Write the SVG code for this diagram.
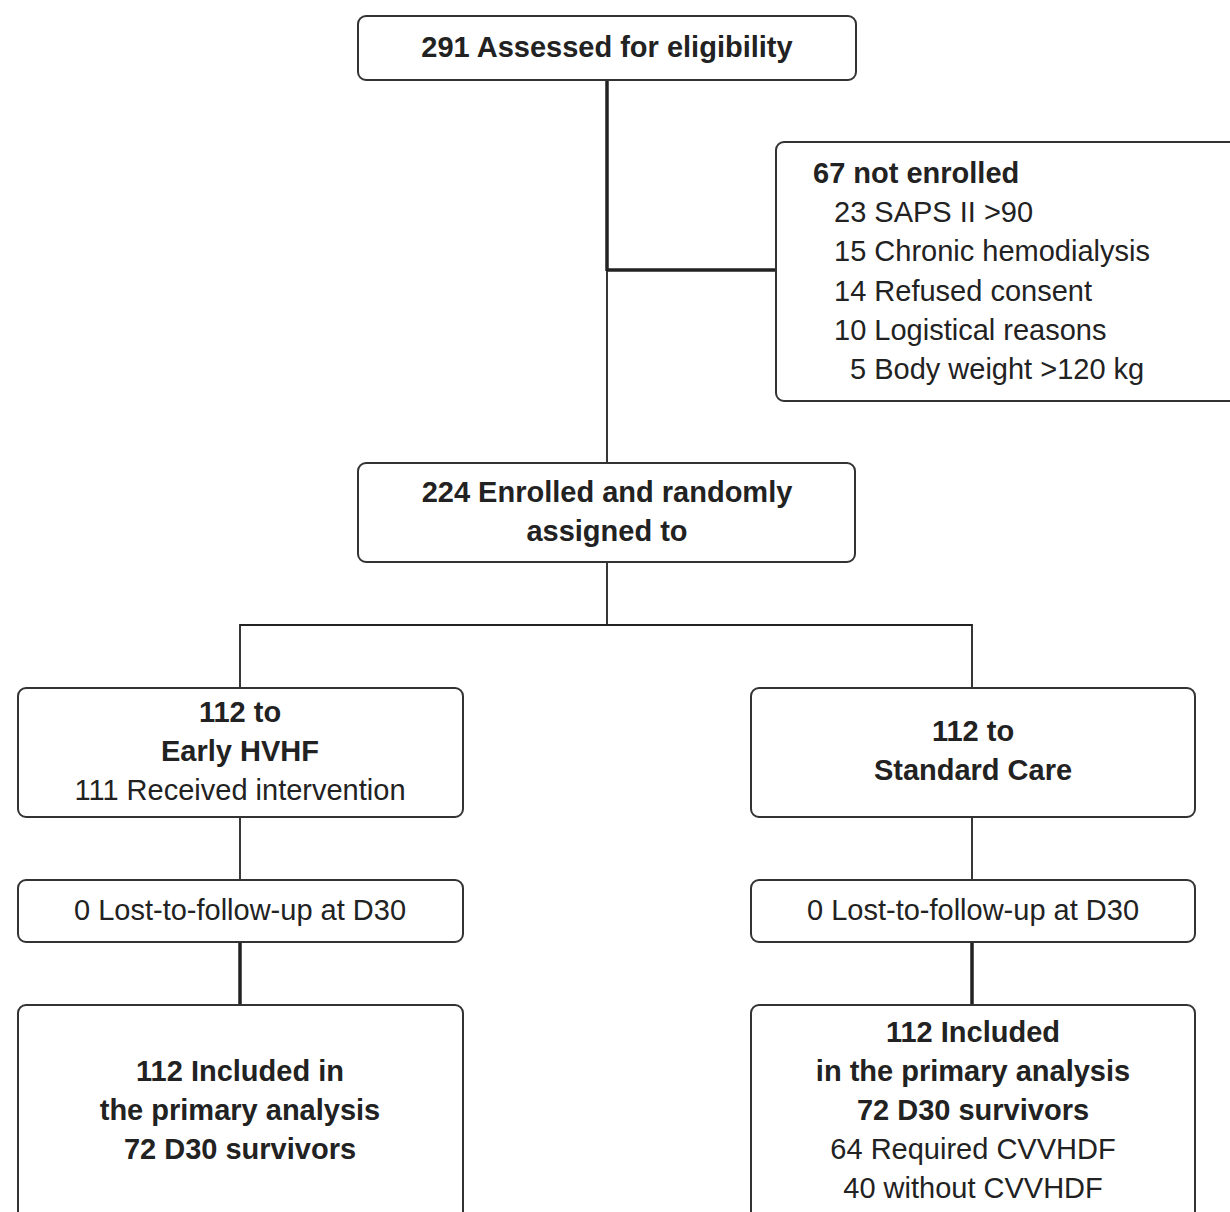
<svg xmlns="http://www.w3.org/2000/svg" width="1230" height="1212" viewBox="0 0 1230 1212">
<style>
.box{fill:#fff;stroke:#333;stroke-width:2}
text{font-family:"Liberation Sans",Arial,Helvetica,sans-serif;font-size:29px;fill:#222}
.b{font-weight:bold}
.c{text-anchor:middle}
.thick{stroke:#222;stroke-width:3.5;fill:none}
.thin{stroke:#222;stroke-width:1.8;fill:none}
</style>
<rect width="1230" height="1212" fill="#fff"/>
<g id="connectors">
<line class="thick" x1="607" y1="80" x2="607" y2="271"/>
<line class="thick" x1="607" y1="270" x2="777" y2="270"/>
<line class="thin" x1="607" y1="270" x2="607" y2="463"/>
<line class="thin" x1="607" y1="562" x2="607" y2="625"/>
<polyline class="thin" points="240,688 240,625 972,625 972,688"/>
<line class="thin" x1="240" y1="817" x2="240" y2="880"/>
<line class="thin" x1="972" y1="817" x2="972" y2="880"/>
<line class="thick" x1="240" y1="942" x2="240" y2="1005"/>
<line class="thick" x1="972" y1="942" x2="972" y2="1005"/>
</g>
<g id="assessed">
<rect class="box" x="358" y="16" width="498" height="64" rx="8"/>
<text class="b c" x="607" y="57">291 Assessed for eligibility</text>
</g>
<g id="not-enrolled">
<rect class="box" x="776" y="142" width="480" height="259" rx="8"/>
<text class="b" x="813" y="183">67 not enrolled</text>
<text x="834" y="222">23 SAPS II &gt;90</text>
<text x="834" y="261">15 Chronic hemodialysis</text>
<text x="834" y="301">14 Refused consent</text>
<text x="834" y="340">10 Logistical reasons</text>
<text x="850" y="379">5 Body weight &gt;120 kg</text>
</g>
<g id="enrolled">
<rect class="box" x="358" y="463" width="497" height="99" rx="8"/>
<text class="b c" x="607" y="502">224 Enrolled and randomly</text>
<text class="b c" x="607" y="541">assigned to</text>
</g>
<g id="early-hvhf">
<rect class="box" x="18" y="688" width="445" height="129" rx="8"/>
<text class="b c" x="240" y="722">112 to</text>
<text class="b c" x="240" y="761">Early HVHF</text>
<text class="c" x="240" y="800">111 Received intervention</text>
</g>
<g id="standard-care">
<rect class="box" x="751" y="688" width="444" height="129" rx="8"/>
<text class="b c" x="973" y="741">112 to</text>
<text class="b c" x="973" y="780">Standard Care</text>
</g>
<g id="lost-left">
<rect class="box" x="18" y="880" width="445" height="62" rx="8"/>
<text class="c" x="240" y="920">0 Lost-to-follow-up at D30</text>
</g>
<g id="lost-right">
<rect class="box" x="751" y="880" width="444" height="62" rx="8"/>
<text class="c" x="973" y="920">0 Lost-to-follow-up at D30</text>
</g>
<g id="analysis-left">
<rect class="box" x="18" y="1005" width="445" height="230" rx="8"/>
<text class="b c" x="240" y="1081">112 Included in</text>
<text class="b c" x="240" y="1120">the primary analysis</text>
<text class="b c" x="240" y="1159">72 D30 survivors</text>
</g>
<g id="analysis-right">
<rect class="box" x="751" y="1005" width="444" height="230" rx="8"/>
<text class="b c" x="973" y="1042">112 Included</text>
<text class="b c" x="973" y="1081">in the primary analysis</text>
<text class="b c" x="973" y="1120">72 D30 survivors</text>
<text class="c" x="973" y="1159">64 Required CVVHDF</text>
<text class="c" x="973" y="1198">40 without CVVHDF</text>
</g>
</svg>
